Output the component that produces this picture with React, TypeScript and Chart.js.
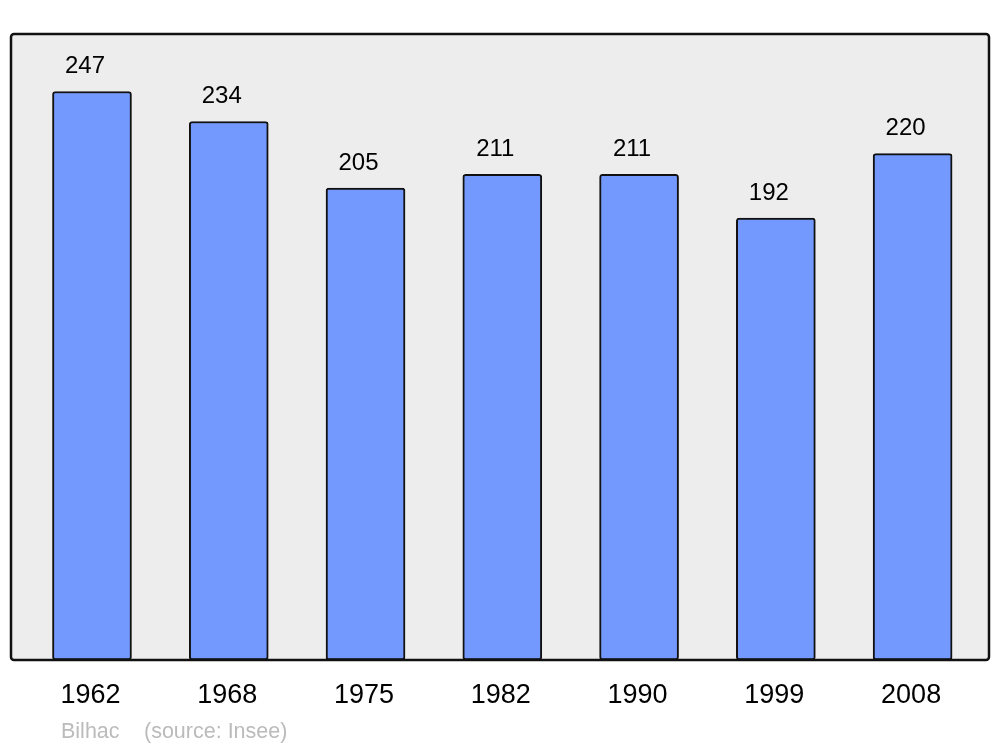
import React, { useEffect, useRef } from "react";
import { Chart, registerables } from "chart.js";

Chart.register(...registerables);

const years = ["1962", "1968", "1975", "1982", "1990", "1999", "2008"];
const population = [247, 234, 205, 211, 211, 192, 220];
const footerName = "Bilhac";
const footerSource = "(source: Insee)";

const FONT = "'Liberation Sans', Arial, sans-serif";

const decorPlugin = {
  id: "decor",
  beforeDraw(chart: any) {
    const ctx = chart.ctx;
    ctx.save();
    ctx.beginPath();
    ctx.roundRect(11, 34, 978, 626, 3);
    ctx.fillStyle = "#ededed";
    ctx.fill();
    ctx.restore();
  },
  afterDatasetsDraw(chart: any) {
    const ctx = chart.ctx;
    ctx.save();
    ctx.beginPath();
    ctx.roundRect(11, 34, 978, 626, 3);
    ctx.lineWidth = 2.5;
    ctx.strokeStyle = "#111";
    ctx.stroke();

    const xs = chart.scales.x;
    const ys = chart.scales.y;
    ctx.fillStyle = "#000";
    ctx.textAlign = "center";
    ctx.textBaseline = "alphabetic";
    ctx.font = `24px ${FONT}`;
    population.forEach((v, i) => {
      const x = xs.getPixelForValue(i);
      const y = ys.getPixelForValue(v);
      ctx.fillText(String(v), x - 7, y - 18.5);
    });
    ctx.font = `27px ${FONT}`;
    years.forEach((t, i) => {
      const x = xs.getPixelForValue(i);
      ctx.fillText(t, x - 1.5, 703);
    });
    ctx.font = `21.5px ${FONT}`;
    ctx.fillStyle = "#bbbbbb";
    ctx.textAlign = "left";
    ctx.fillText(footerName, 61, 738);
    ctx.fillText(footerSource, 144, 738);
    ctx.restore();
  },
};

export default function App() {
  const ref = useRef<HTMLCanvasElement>(null);
  useEffect(() => {
    if (!ref.current) return;
    const chart = new Chart(ref.current, {
      type: "bar",
      data: {
        labels: years,
        datasets: [
          {
            data: population,
            backgroundColor: "#7399ff",
            borderColor: "#111",
            borderWidth: 2,
            borderRadius: 3,
            borderSkipped: false,
            barThickness: 79,
          },
        ],
      },
      options: {
        responsive: false,
        animation: false,
        layout: { padding: { left: 23.6, right: 19, top: 34, bottom: 87 } },
        plugins: { legend: { display: false }, tooltip: { enabled: false } },
        scales: {
          x: { display: false, offset: true },
          y: { display: false, min: 0, max: 272 },
        },
      },
      plugins: [decorPlugin],
    });
    return () => chart.destroy();
  }, []);
  return (
    <div style={{ position: "fixed", left: 0, top: 0, width: 1000, height: 747, background: "#fff" }}>
      <canvas ref={ref} width={1000} height={747} />
    </div>
  );
}
